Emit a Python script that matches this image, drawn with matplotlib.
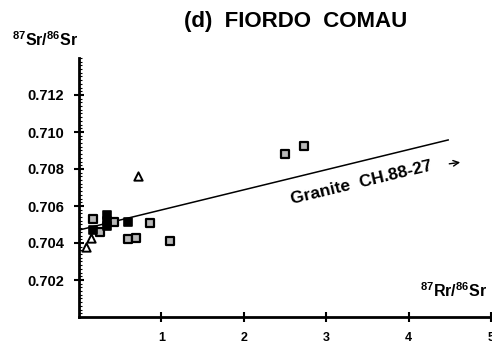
import matplotlib
matplotlib.use("Agg")
import matplotlib.pyplot as plt
from matplotlib.ticker import MultipleLocator

plt.rcParams['font.family'] = ['Liberation Sans', 'DejaVu Sans']
plt.rcParams['font.weight'] = 'bold'
plt.rcParams['mathtext.fontset'] = 'custom'
plt.rcParams['mathtext.rm'] = 'Liberation Sans:bold'
plt.rcParams['mathtext.bf'] = 'Liberation Sans:bold'
plt.rcParams['mathtext.default'] = 'bf'

# --- data ---
sq_x = [0.17, 0.255, 0.43, 0.86, 0.60, 0.69, 1.10, 2.50, 2.73]
sq_y = [0.70528, 0.70461, 0.70515, 0.7051, 0.7042, 0.70425, 0.70412, 0.70881, 0.70924]
blk_x = [0.34, 0.34, 0.34, 0.60, 0.17]
blk_y = [0.7055, 0.7052, 0.7049, 0.70515, 0.7047]
tri_x = [0.72, 0.09, 0.15]
tri_y = [0.7076, 0.70377, 0.70425]
line_x = [0.0, 4.48]
line_y = [0.7047, 0.70957]
x_ticks = [1, 2, 3, 4, 5]
y_ticks = [0.702, 0.704, 0.706, 0.708, 0.710, 0.712]

fig = plt.figure(figsize=(4.92, 3.46), dpi=100)
ax = fig.add_axes([79/492, 1-317/346, 412/492, (317-58)/346])
ax.set_xlim(0, 5)
ax.set_ylim(0.700, 0.714)

ax.plot(line_x, line_y, color='black', lw=1.1, zorder=2)
ax.scatter(sq_x, sq_y, marker='s', s=38, facecolor='#b8b8b8', edgecolor='black', linewidths=1.6, zorder=3)
ax.scatter(blk_x, blk_y, marker='s', s=38, facecolor='black', edgecolor='black', linewidths=1.2, zorder=4)
ax.scatter(tri_x, tri_y, marker='^', s=36, facecolor='white', edgecolor='black', linewidths=1.4, zorder=5)

for s in ['top', 'right']:
    ax.spines[s].set_visible(False)
for s in ['left', 'bottom']:
    ax.spines[s].set_linewidth(2)

ax.set_xticks(x_ticks)
ax.set_yticks(y_ticks)
ax.set_yticklabels([f"{v:.3f}" for v in y_ticks])
ax.yaxis.set_minor_locator(MultipleLocator(0.0002))
ax.tick_params(axis='both', direction='inout', length=7, width=1.5)
ax.tick_params(axis='x', pad=7, labelsize=9)
ax.tick_params(axis='y', pad=7, labelsize=10.5)
ax.tick_params(axis='y', which='minor', direction='in', length=2, width=0.8)
for lab in ax.get_xticklabels() + ax.get_yticklabels():
    lab.set_fontweight('bold')

fig.text(0.60, 1-22/346, "(d)  FIORDO  COMAU", ha='center', va='center', fontsize=16, fontweight='bold')
fig.text(12/492, 1-40/346, "$^{87}$Sr/$^{86}$Sr", ha='left', va='center', fontsize=11.5, fontweight='bold')
ax.text(4.95, 0.70092, "$^{87}$Rr/$^{86}$Sr", ha='right', va='bottom', fontsize=11.5, fontweight='bold')
ax.text(3.43, 0.70724, "Granite  CH.88-27", ha='center', va='center', fontsize=12.5,
        fontweight='bold', rotation=13.5, rotation_mode='anchor')
ax.annotate("", xy=(4.66, 0.70838), xytext=(4.46, 0.70826),
            arrowprops=dict(arrowstyle='->', color='black', lw=1))

fig.savefig("out.png", dpi=100)
